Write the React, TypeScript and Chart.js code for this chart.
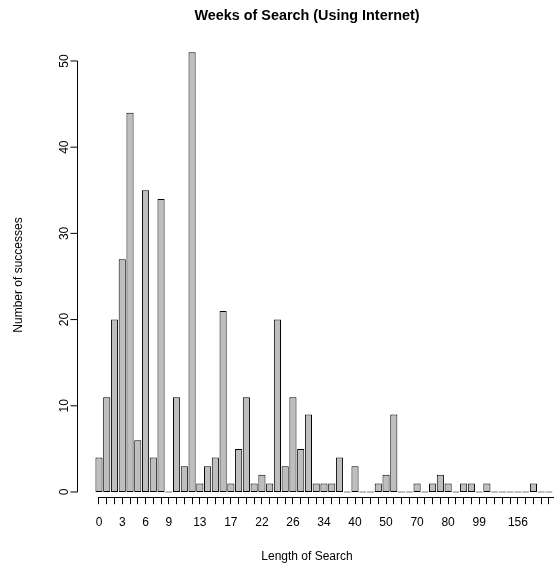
import React, { useEffect, useRef } from 'react';
import { Chart, registerables } from 'chart.js';

Chart.register(...registerables);

// Categories: length of search in weeks
const weeks = [
  '0', '1', '2', '3', '4', '5', '6', '7', '8', '9',
  '10', '11', '12', '13', '14', '15', '16', '17', '18', '20',
  '21', '22', '23', '24', '25', '26', '28', '30', '32', '34',
  '35', '36', '38', '40', '42', '44', '48', '50', '52', '56',
  '60', '70', '72', '75', '78', '80', '85', '90', '96', '99',
  '104', '110', '120', '130', '156', '160', '200', '208', '260',
];

// Number of successes per category
const successes = [
  4, 11, 20, 27, 44, 6, 35, 4, 34, 0,
  11, 3, 51, 1, 3, 4, 21, 1, 5, 11,
  1, 2, 1, 20, 3, 11, 5, 9, 1, 1,
  1, 4, 0, 3, 0, 0, 1, 2, 9, 0,
  0, 1, 0, 1, 2, 1, 0, 1, 1, 0,
  1, 0, 0, 0, 0, 0, 1, 0, 0,
];

// Tick labels that are printed under the axis
const shownWeekLabels = ['0', '3', '6', '9', '13', '17', '22', '26', '34', '40', '50', '70', '80', '99', '156'];

// Y axis ticks
const yTicks = [0, 10, 20, 30, 40, 50];

const titleText = 'Weeks of Search (Using Internet)';
const xTitleText = 'Length of Search';
const yTitleText = 'Number of successes';

const FONT = "'Liberation Sans', Arial, Helvetica, sans-serif";

export default function App() {
  const ref = useRef<HTMLCanvasElement | null>(null);

  useEffect(() => {
    const canvas = ref.current;
    if (!canvas) return;

    const decor = {
      id: 'rDecor',
      afterDraw(chart: any) {
        const { ctx } = chart;
        const xs = chart.scales.x;
        const ys = chart.scales.y;
        ctx.save();
        ctx.strokeStyle = '#000';
        ctx.fillStyle = '#000';
        ctx.lineWidth = 1;

        // x axis line from first tick to the right
        const axY = Math.round(chart.chartArea.bottom) + 0.5;
        ctx.beginPath();
        ctx.moveTo(xs.getPixelForValue(0), axY);
        ctx.lineTo(chart.width, axY);
        ctx.stroke();

        // y axis
        const yx = 77.5;
        ctx.beginPath();
        ctx.moveTo(yx, ys.getPixelForValue(yTicks[0]));
        ctx.lineTo(yx, ys.getPixelForValue(yTicks[yTicks.length - 1]));
        ctx.stroke();
        ctx.font = `12px ${FONT}`;
        for (const v of yTicks) {
          const py = ys.getPixelForValue(v);
          ctx.beginPath();
          ctx.moveTo(yx, py);
          ctx.lineTo(yx - 7, py);
          ctx.stroke();
          ctx.save();
          ctx.translate(67.5, py);
          ctx.rotate(-Math.PI / 2);
          ctx.textAlign = 'center';
          ctx.textBaseline = 'alphabetic';
          ctx.fillText(String(v), 0, 0);
          ctx.restore();
        }

        // y title
        ctx.save();
        ctx.translate(21.5, 275);
        ctx.rotate(-Math.PI / 2);
        ctx.textAlign = 'center';
        ctx.textBaseline = 'alphabetic';
        ctx.font = `12px ${FONT}`;
        ctx.fillText(yTitleText, 0, 0);
        ctx.restore();

        // x title
        ctx.textAlign = 'center';
        ctx.textBaseline = 'middle';
        ctx.font = `12px ${FONT}`;
        ctx.fillText(xTitleText, 307, 557);

        // main title
        ctx.font = `bold 14.4px ${FONT}`;
        ctx.fillText(titleText, 307, 16);
        ctx.restore();
      },
    };

    const chart = new Chart(canvas, {
      type: 'bar',
      data: {
        labels: weeks,
        datasets: [
          {
            data: successes,
            backgroundColor: '#bebebe',
            borderColor: '#000',
            borderWidth: 1,
            borderSkipped: false,
            barPercentage: 0.92,
            categoryPercentage: 1,
            minBarLength: 1,
          },
        ],
      },
      options: {
        animation: false,
        responsive: false,
        devicePixelRatio: 1,
        layout: { padding: { top: 35.1, left: 95.1, right: 2.93, bottom: 0 } },
        plugins: {
          legend: { display: false },
          tooltip: { enabled: false },
          title: { display: false },
        },
        scales: {
          x: {
            type: 'category',
            offset: true,
            grid: {
              display: true,
              drawOnChartArea: false,
              drawTicks: true,
              tickLength: 7,
              color: '#000',
              lineWidth: 1,
              offset: false,
            },
            border: { display: false },
            ticks: {
              autoSkip: false,
              maxRotation: 0,
              minRotation: 0,
              padding: 11,
              color: '#000',
              font: { family: FONT, size: 12 },
              callback: (_v: any, i: number) => (shownWeekLabels.includes(weeks[i]) ? weeks[i] : ''),
            },
            afterFit: (s: any) => {
              s.height = 572 - 497.17;
            },
          },
          y: {
            display: false,
            min: -0.6,
            max: 53,
          },
        },
      },
      plugins: [decor],
    });

    return () => chart.destroy();
  }, []);

  return (
    <div style={{ position: 'absolute', left: 0, top: 0, width: 554, height: 572, overflow: 'hidden', background: '#fff' }}>
      <canvas ref={ref} width={560} height={572} style={{ display: 'block' }} />
    </div>
  );
}
